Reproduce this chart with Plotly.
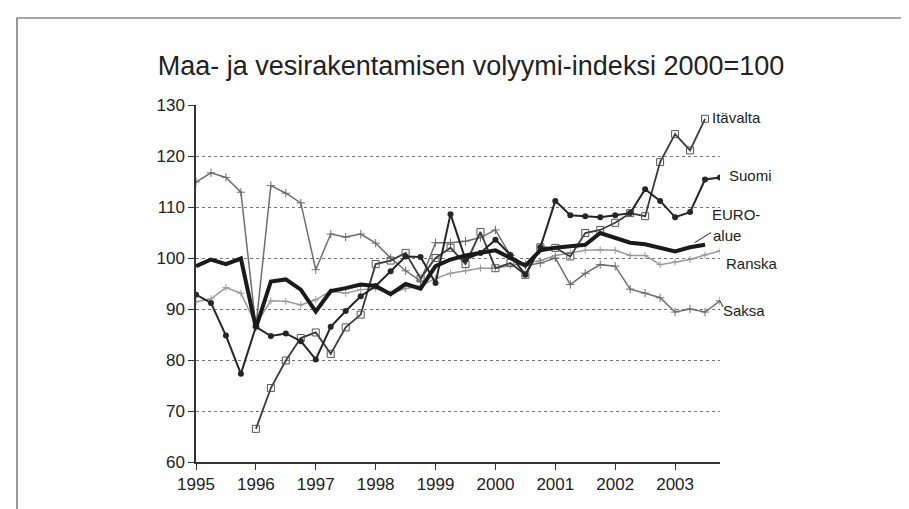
import plotly.graph_objects as go

years = ["1995", "1996", "1997", "1998", "1999", "2000", "2001", "2002", "2003"]
quarters = list(range(36))  # 1995Q1 .. 2003Q4

saksa = [114.9, 116.7, 115.8, 112.9, 86.5, 114.2, 112.7, 110.8, 97.7, 104.7, 104.1, 104.7,
         102.9, 100.0, 97.5, 95.5, 103.0, 103.0, 103.3, 104.0, 105.5, 100.5, 98.5, 99.0,
         100.0, 94.8, 97.0, 98.7, 98.4, 93.9, 93.1, 92.2, 89.4, 90.0, 89.4, 91.6]
ranska = [91.4, 92.0, 94.2, 93.1, 87.0, 91.6, 91.5, 90.8, 91.8, 93.5, 93.1, 93.8,
          94.0, 93.0, 94.0, 94.5, 96.0, 97.0, 97.5, 98.0, 98.0, 98.5, 99.0, 99.5,
          100.5, 101.0, 101.5, 101.6, 101.5, 100.5, 100.5, 98.7, 99.2, 99.7, 100.6, 101.4]
itavalta = [None, None, None, None, 66.5, 74.5, 79.9, 84.3, 85.4, 81.2, 86.4, 88.9,
            98.8, 99.5, 101.0, 96.0, 100.0, 102.0, 98.8, 105.1, 98.0, 99.0, 96.7, 102.1,
            102.0, 100.3, 104.9, 105.5, 106.9, 108.8, 108.2, 118.8, 124.3, 121.1, 127.3, None]
suomi = [92.8, 91.2, 84.8, 77.3, 86.5, 84.7, 85.2, 83.7, 80.1, 86.5, 89.6, 92.5,
         94.5, 97.4, 100.3, 100.2, 95.1, 108.6, 99.7, 101.0, 103.6, 100.6, 96.7, 102.1,
         111.2, 108.4, 108.2, 108.0, 108.4, 108.8, 113.5, 111.2, 108.0, 109.0, 115.4, 115.8]
euro = [98.4, 99.7, 98.8, 99.9, 86.3, 95.4, 95.8, 93.8, 89.5, 93.5, 94.1, 94.8,
        94.5, 92.9, 94.9, 94.0, 98.4, 99.7, 100.5, 101.0, 101.5, 100.0, 98.5, 101.5,
        102.0, 102.3, 102.6, 104.9, 104.0, 103.0, 102.7, 102.1, 101.3, 102.1, 102.6, None]

FONT = "Liberation Sans, Arial, sans-serif"
W, H = 909, 509
L, R, T, B = 188, 197, 97, 55
PW, PH = W - L - R, H - T - B
XMAX = 35


def px2paper_x(px):
    return (px - L) / PW


def px2paper_y(py):
    return (H - B - py) / PH


fig = go.Figure()
fig.add_trace(go.Scatter(x=quarters, y=ranska, mode="lines+markers", name="Ranska",
                         line=dict(color="#9a9a9a", width=1.5),
                         marker=dict(symbol="cross-thin", size=5, color="#9a9a9a",
                                     line=dict(color="#9a9a9a", width=1))))
fig.add_trace(go.Scatter(x=quarters, y=saksa, mode="lines+markers", name="Saksa",
                         line=dict(color="#6e6e6e", width=1.5),
                         marker=dict(symbol="cross-thin", size=6, color="#6e6e6e",
                                     line=dict(color="#6e6e6e", width=1))))
fig.add_trace(go.Scatter(x=quarters, y=itavalta, mode="lines+markers", name="Itävalta",
                         line=dict(color="#3a3a3a", width=1.8),
                         marker=dict(symbol="square-open", size=7, color="#555555",
                                     line=dict(width=1))))
fig.add_trace(go.Scatter(x=quarters, y=suomi, mode="lines+markers", name="Suomi",
                         line=dict(color="#262626", width=2),
                         marker=dict(symbol="circle", size=6, color="#262626")))
fig.add_trace(go.Scatter(x=quarters, y=euro, mode="lines", name="EURO-alue",
                         line=dict(color="#1a1a1a", width=4)))

# series labels: (text, position in quarters, value)
labels = [("Itävalta", 34.35, 127.6), ("Suomi", 35.45, 116.1), ("EURO-", 34.35, 108.6),
          ("alue", 34.4, 104.4), ("Ranska", 35.25, 99.0), ("Saksa", 35.1, 89.7)]
for txt, xx, yy in labels:
    fig.add_annotation(x=xx / XMAX, y=(yy - 60) / 70, xref="paper", yref="paper", text=txt,
                       showarrow=False, xanchor="left", yanchor="middle",
                       font=dict(family=FONT, size=15, color="#222222"))
# leader lines
fig.add_shape(type="line", xref="paper", yref="paper", x0=33.3 / XMAX, y0=(103.0 - 60) / 70,
              x1=34.4 / XMAX, y1=(105.0 - 60) / 70, line=dict(color="#222222", width=1))
fig.add_shape(type="line", xref="paper", yref="paper", x0=35.0 / XMAX, y0=(91.6 - 60) / 70,
              x1=35.2 / XMAX, y1=(90.4 - 60) / 70, line=dict(color="#222222", width=1))

# outer frame
fig.add_shape(type="rect", xref="paper", yref="paper",
              x0=px2paper_x(9), y0=px2paper_y(540), x1=px2paper_x(897), y1=px2paper_y(10),
              line=dict(color="#555555", width=1.2))

fig.update_layout(
    width=W, height=H,
    margin=dict(l=L, r=R, t=T, b=B),
    paper_bgcolor="white", plot_bgcolor="white",
    showlegend=False,
    title=dict(text="Maa- ja vesirakentamisen volyymi-indeksi 2000=100",
               x=463 / W, xanchor="center", y=1 - 58 / H, yanchor="middle",
               font=dict(family=FONT, size=27, color="#222222")),
    font=dict(family=FONT, size=17, color="#222222"),
)
fig.update_xaxes(range=[0, XMAX], tickvals=[0, 4, 8, 12, 16, 20, 24, 28, 32], ticktext=years,
                 showgrid=False, zeroline=False, showline=True, linecolor="#333333",
                 linewidth=1.5, ticks="outside", ticklen=6, tickcolor="#333333",
                 tickfont=dict(size=17))
fig.update_yaxes(range=[60, 130], dtick=10, showgrid=True, gridcolor="#777777",
                 griddash="dot", gridwidth=1, zeroline=False, showline=True,
                 linecolor="#333333", linewidth=1.5, ticks="outside", ticklen=6,
                 tickcolor="#333333", tickfont=dict(size=17))

fig.write_html("out.html")
